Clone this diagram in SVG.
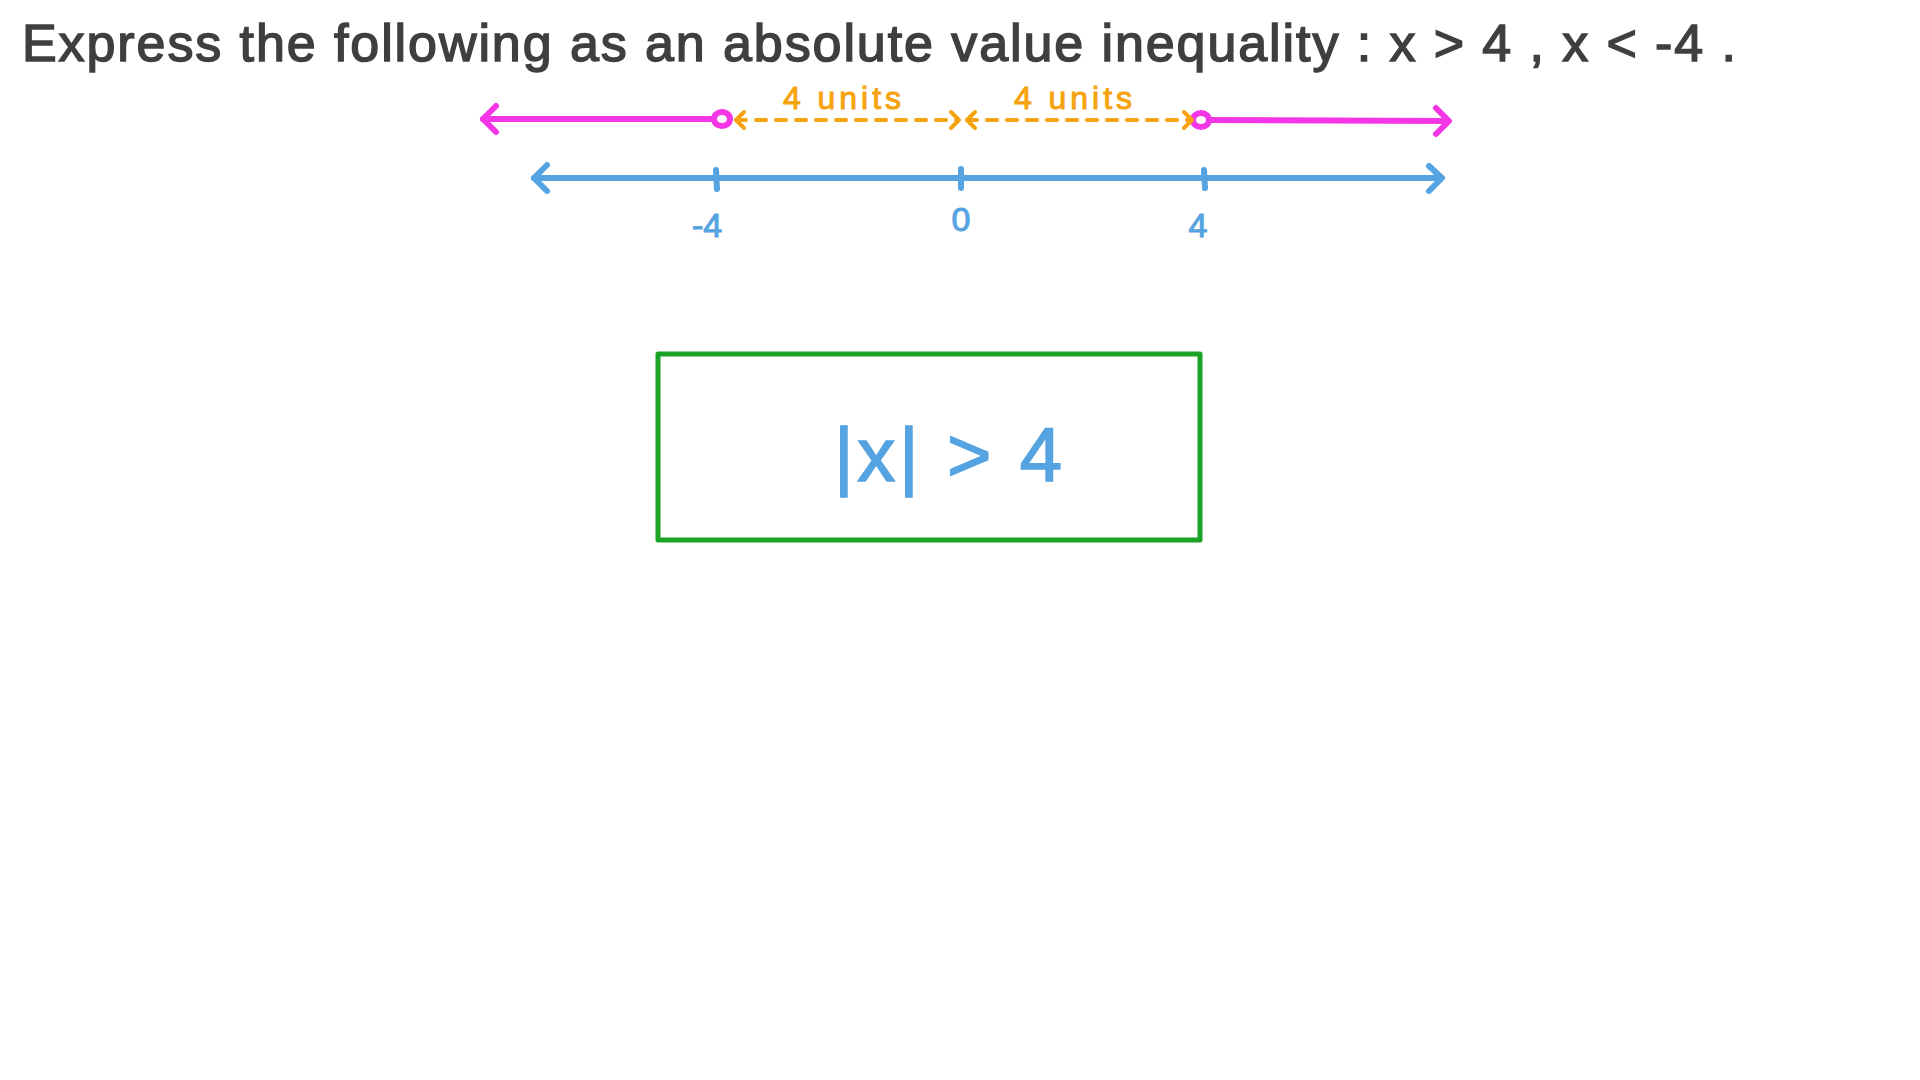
<svg xmlns="http://www.w3.org/2000/svg" width="1920" height="1080" viewBox="0 0 1920 1080">
<style>
.title{font-family:"Liberation Sans","DejaVu Sans",sans-serif;font-size:52px;fill:#3f3f3f;stroke:#3f3f3f;stroke-width:1.5;}
.pink{stroke:#f536e6;stroke-width:6;fill:none;stroke-linecap:round;stroke-linejoin:round;}
.blue{stroke:#55a3e0;stroke-width:6;fill:none;stroke-linecap:round;stroke-linejoin:round;}
.orange{stroke:#f5a30f;stroke-width:4;fill:none;stroke-linecap:round;stroke-linejoin:round;}
.dash{stroke-dasharray:10 10;}
.olabel{font-family:"Liberation Sans","DejaVu Sans",sans-serif;font-size:32px;fill:#f5a30f;stroke:#f5a30f;stroke-width:1;text-anchor:middle;}
.blabel{font-family:"Liberation Sans","DejaVu Sans",sans-serif;font-size:34px;fill:#55a3e0;stroke:#55a3e0;stroke-width:1;text-anchor:middle;}
.box{stroke:#1ba326;stroke-width:5;fill:none;stroke-linejoin:round;}
.ans{font-family:"Liberation Sans","DejaVu Sans",sans-serif;font-size:76px;fill:#55a3e0;stroke:#55a3e0;stroke-width:1.5;text-anchor:middle;}
</style>
<rect width="1920" height="1080" fill="#ffffff"/>
<g id="title">
<text class="title" x="22" y="61" textLength="1714" lengthAdjust="spacing">Express the following as an absolute value inequality : x &gt; 4 , x &lt; -4 .</text>
</g>
<g id="connectors">
<line class="pink" x1="483" y1="119" x2="714" y2="119"/>
<polyline class="pink" points="496,106 483,119 496,132"/>
<ellipse class="pink" cx="722" cy="119" rx="8" ry="7"/>
<line class="pink" x1="1209" y1="120" x2="1448" y2="121"/>
<polyline class="pink" points="1436,108 1449,121 1436,134"/>
<ellipse class="pink" cx="1201" cy="120" rx="8" ry="7"/>
<line class="blue" x1="534" y1="178" x2="1441" y2="178"/>
<polyline class="blue" points="547,165 534,178 547,191"/>
<polyline class="blue" points="1429,166 1442,178 1429,191"/>
<line class="blue" x1="716" y1="170" x2="717" y2="189"/>
<line class="blue" x1="961" y1="169" x2="961" y2="188"/>
<line class="blue" x1="1204" y1="170" x2="1205" y2="188"/>
<line class="orange dash" x1="736" y1="120" x2="957" y2="120"/>
<polyline class="orange" points="744,112 736,120 744,128"/>
<polyline class="orange" points="951,112 959,120 951,128"/>
<line class="orange dash" x1="967" y1="120" x2="1190" y2="120"/>
<polyline class="orange" points="975,112 967,120 975,128"/>
<polyline class="orange" points="1184,112 1192,120 1184,128"/>
</g>
<g id="labels">
<text class="olabel" x="842" y="109" textLength="118" lengthAdjust="spacing">4 units</text>
<text class="olabel" x="1073" y="109" textLength="118" lengthAdjust="spacing">4 units</text>
<text class="blabel" x="707" y="237">-4</text>
<text class="blabel" x="961" y="231">0</text>
<text class="blabel" x="1198" y="237">4</text>
</g>
<g id="answer">
<rect class="box" x="658" y="354" width="542" height="186"/>
<text class="ans" x="948" y="481" textLength="228" lengthAdjust="spacing">|x| &gt; 4</text>
</g>
</svg>
